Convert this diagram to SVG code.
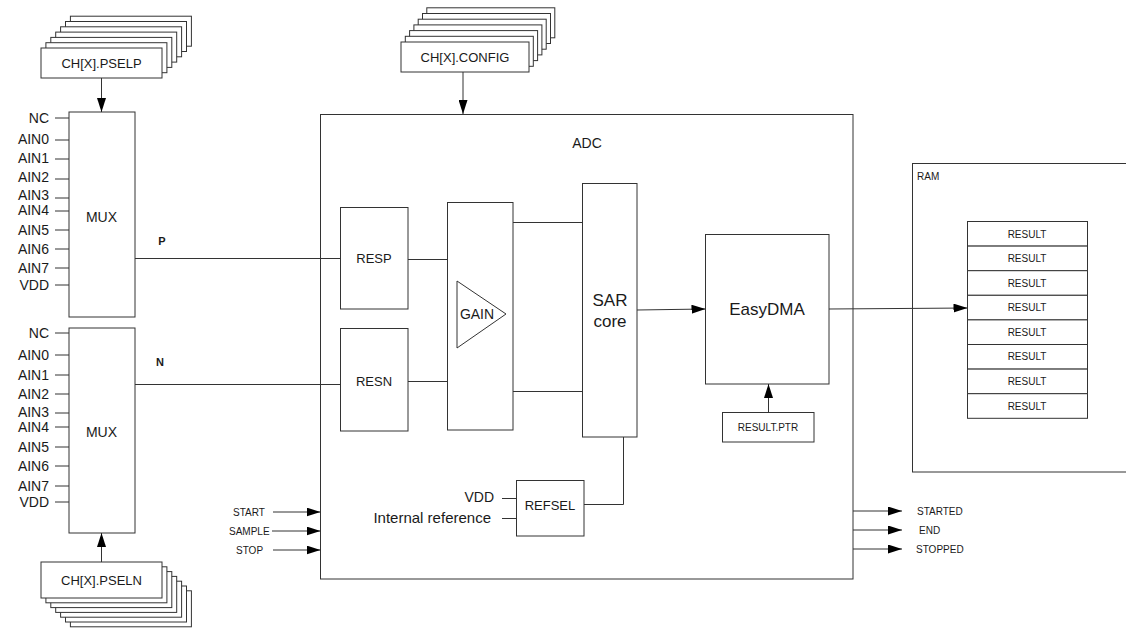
<svg xmlns="http://www.w3.org/2000/svg" width="1126" height="628" viewBox="0 0 1126 628">
<style>
.b{fill:#fff;stroke:#333;stroke-width:1}
.l{stroke:#333;stroke-width:1;fill:none}
.t{font-family:"Liberation Sans",Arial,sans-serif;fill:#1a1a1a}
.c{text-anchor:middle;dominant-baseline:central}
.r{text-anchor:end;dominant-baseline:central}
.s{text-anchor:start;dominant-baseline:central}
.f14{font-size:14px}.f13{font-size:13px}.f10{font-size:10px}
</style>
<defs>
<marker id="ah" markerUnits="userSpaceOnUse" markerWidth="14" markerHeight="9" refX="14" refY="4.5" orient="auto">
<path d="M0,0 L14,4.5 L0,9 z" fill="#000"/>
</marker>
</defs>
<rect width="1126" height="628" fill="#fff"/>

<g id="pselp">
<rect class="b" x="70.4" y="16.2" width="121" height="30"/>
<rect class="b" x="65.5" y="21.5" width="121" height="30"/>
<rect class="b" x="60.6" y="26.8" width="121" height="30"/>
<rect class="b" x="55.7" y="32.1" width="121" height="30"/>
<rect class="b" x="50.8" y="37.4" width="121" height="30"/>
<rect class="b" x="45.9" y="42.7" width="121" height="30"/>
<rect class="b" x="41" y="48" width="121" height="30"/>
<text class="t c f13" x="101.5" y="63">CH[X].PSELP</text>
</g>

<g id="pseln">
<rect class="b" x="70.4" y="590.8" width="121" height="36"/>
<rect class="b" x="65.5" y="586" width="121" height="36"/>
<rect class="b" x="60.6" y="581.2" width="121" height="36"/>
<rect class="b" x="55.7" y="576.4" width="121" height="36"/>
<rect class="b" x="50.8" y="571.6" width="121" height="36"/>
<rect class="b" x="45.9" y="566.8" width="121" height="36"/>
<rect class="b" x="41" y="562" width="121" height="36"/>
<text class="t c f13" x="101.5" y="580">CH[X].PSELN</text>
</g>

<g id="config">
<rect class="b" x="426.8" y="7.8" width="128" height="30"/>
<rect class="b" x="422.5" y="13.5" width="128" height="30"/>
<rect class="b" x="418.2" y="19.2" width="128" height="30"/>
<rect class="b" x="413.9" y="24.9" width="128" height="30"/>
<rect class="b" x="409.6" y="30.6" width="128" height="30"/>
<rect class="b" x="405.3" y="36.3" width="128" height="30"/>
<rect class="b" x="401" y="42" width="128" height="30"/>
<text class="t c f13" x="465" y="57">CH[X].CONFIG</text>
</g>

<g id="mux-p">
<rect class="b" x="69" y="112" width="66" height="205"/>
<text class="t c f14" x="101.5" y="217">MUX</text>
<g class="t r f14">
<text x="49" y="118">NC</text>
<text x="49" y="139">AIN0</text>
<text x="49" y="158">AIN1</text>
<text x="49" y="177">AIN2</text>
<text x="49" y="195">AIN3</text>
<text x="49" y="210">AIN4</text>
<text x="49" y="230">AIN5</text>
<text x="49" y="249">AIN6</text>
<text x="49" y="268">AIN7</text>
<text x="49" y="285">VDD</text>
</g>
<path class="l" d="M55,118H69M55,140H69M55,159H69M55,179H69M55,198H69M55,211H69M55,230H69M55,249H69M55,268H69M55,285H69"/>
</g>

<g id="mux-n">
<rect class="b" x="69" y="328" width="66" height="205"/>
<text class="t c f14" x="101.5" y="432">MUX</text>
<g class="t r f14">
<text x="49" y="333">NC</text>
<text x="49" y="355">AIN0</text>
<text x="49" y="375">AIN1</text>
<text x="49" y="394">AIN2</text>
<text x="49" y="412">AIN3</text>
<text x="49" y="427">AIN4</text>
<text x="49" y="447">AIN5</text>
<text x="49" y="466">AIN6</text>
<text x="49" y="486">AIN7</text>
<text x="49" y="502">VDD</text>
</g>
<path class="l" d="M55,333H69M55,355H69M55,375H69M55,394H69M55,413H69M55,427H69M55,447H69M55,466H69M55,486H69M55,502H69"/>
</g>

<g id="adc">
<rect class="b" x="320.5" y="114.5" width="532.5" height="464.5"/>
<text class="t c f14" x="587" y="143">ADC</text>
</g>

<g id="resp">
<rect class="b" x="340.5" y="207.5" width="67.5" height="101.5"/>
<text class="t c f13" x="374" y="258">RESP</text>
</g>
<g id="resn">
<rect class="b" x="340.5" y="328.5" width="67.5" height="102.5"/>
<text class="t c f13" x="374" y="381">RESN</text>
</g>

<g id="gain">
<rect class="b" x="447.5" y="202.5" width="65.5" height="227.5"/>
<path class="l" d="M457,281L506,314L457,348Z"/>
<text class="t c f14" x="477" y="314">GAIN</text>
</g>

<g id="sar">
<rect class="b" x="582.5" y="183.5" width="54.5" height="253.5"/>
<text class="t c" style="font-size:17px" x="610" y="300">SAR</text>
<text class="t c" style="font-size:17px" x="610" y="321">core</text>
</g>

<g id="easydma">
<rect class="b" x="705.5" y="234.5" width="123.5" height="149.5"/>
<text class="t c" style="font-size:17px" x="767" y="309">EasyDMA</text>
</g>

<g id="resultptr">
<rect class="b" x="722.5" y="412.5" width="91.5" height="29.5"/>
<text class="t c f10" x="768" y="427">RESULT.PTR</text>
</g>

<g id="refsel">
<rect class="b" x="516.5" y="480.5" width="67.5" height="55.5"/>
<text class="t c f13" x="550" y="505">REFSEL</text>
<text class="t r f14" x="494" y="497">VDD</text>
<text class="t r" style="font-size:15px" x="491" y="517">Internal reference</text>
</g>

<g id="ram">
<rect class="b" x="912.5" y="163.5" width="230" height="308.5"/>
<text class="t s f10" x="917" y="176">RAM</text>
<g class="b">
<rect x="967.5" y="221.5" width="120" height="24.6"/>
<rect x="967.5" y="246.1" width="120" height="24.6"/>
<rect x="967.5" y="270.7" width="120" height="24.6"/>
<rect x="967.5" y="295.3" width="120" height="24.6"/>
<rect x="967.5" y="319.9" width="120" height="24.6"/>
<rect x="967.5" y="344.5" width="120" height="24.6"/>
<rect x="967.5" y="369.1" width="120" height="24.6"/>
<rect x="967.5" y="393.7" width="120" height="24.6"/>
</g>
<g class="t c f10">
<text x="1027" y="234">RESULT</text>
<text x="1027" y="258">RESULT</text>
<text x="1027" y="283">RESULT</text>
<text x="1027" y="307">RESULT</text>
<text x="1027" y="332">RESULT</text>
<text x="1027" y="356">RESULT</text>
<text x="1027" y="381">RESULT</text>
<text x="1027" y="406">RESULT</text>
</g>
</g>

<g id="events" class="t f10">
<text class="s" x="233" y="512">START</text>
<text class="s" x="229" y="531">SAMPLE</text>
<text class="s" x="236" y="550">STOP</text>
<text class="s" x="917" y="511">STARTED</text>
<text class="s" x="919" y="530">END</text>
<text class="s" x="916" y="549">STOPPED</text>
</g>

<g id="labels-pn" class="t c" style="font-size:11px;font-weight:bold">
<text x="162" y="241">P</text>
<text x="160" y="362">N</text>
</g>

<g id="connectors">
<line class="l" x1="101.5" y1="78" x2="101.5" y2="112" marker-end="url(#ah)"/>
<line class="l" x1="101.5" y1="562" x2="101.5" y2="533" marker-end="url(#ah)"/>
<line class="l" x1="463" y1="72" x2="463" y2="114" marker-end="url(#ah)"/>
<path class="l" d="M135,258.5H340.5"/>
<path class="l" d="M135,384.5H340.5"/>
<path class="l" d="M408,259.5H447.5"/>
<path class="l" d="M408,381.5H447.5"/>
<path class="l" d="M513,222.5H582.5"/>
<path class="l" d="M513,391.5H582.5"/>
<line class="l" x1="637" y1="310" x2="705.5" y2="309" marker-end="url(#ah)"/>
<line class="l" x1="829" y1="309" x2="967.5" y2="308" marker-end="url(#ah)"/>
<line class="l" x1="768.5" y1="412.5" x2="768.5" y2="384" marker-end="url(#ah)"/>
<path class="l" d="M502,498.5H516.5M502,518.5H516.5"/>
<path class="l" d="M584,504.5H623.5V437"/>
<line class="l" x1="273" y1="512" x2="320.5" y2="512" marker-end="url(#ah)"/>
<line class="l" x1="272" y1="531" x2="320.5" y2="531" marker-end="url(#ah)"/>
<line class="l" x1="273" y1="550" x2="320.5" y2="550" marker-end="url(#ah)"/>
<line class="l" x1="853" y1="511" x2="902" y2="511" marker-end="url(#ah)"/>
<line class="l" x1="853" y1="530" x2="902" y2="530" marker-end="url(#ah)"/>
<line class="l" x1="853" y1="549" x2="902" y2="549" marker-end="url(#ah)"/>
</g>
</svg>
